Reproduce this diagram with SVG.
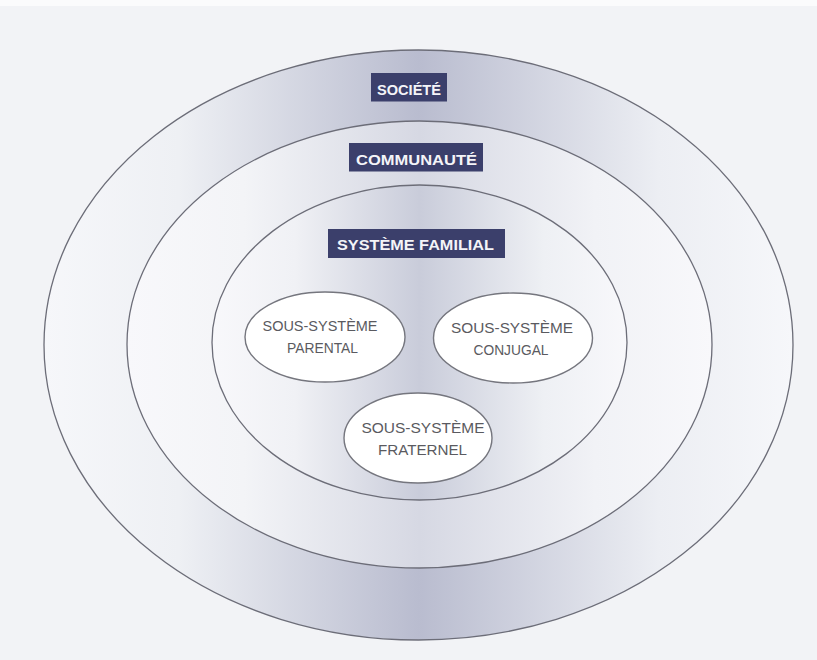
<svg xmlns="http://www.w3.org/2000/svg" width="817" height="660" viewBox="0 0 817 660">
<defs>
<linearGradient id="gOuter" x1="0" y1="0" x2="1" y2="0">
<stop offset="0" stop-color="#f6f7fa"/>
<stop offset="0.18" stop-color="#eef0f4"/>
<stop offset="0.5" stop-color="#b9bccf"/>
<stop offset="0.82" stop-color="#eceef3"/>
<stop offset="1" stop-color="#f6f7fa"/>
</linearGradient>
<linearGradient id="gMiddle" x1="0" y1="0" x2="1" y2="0">
<stop offset="0" stop-color="#f8f8fb"/>
<stop offset="0.2" stop-color="#f3f4f7"/>
<stop offset="0.5" stop-color="#d6d8e3"/>
<stop offset="0.8" stop-color="#f1f2f6"/>
<stop offset="1" stop-color="#f8f8fb"/>
</linearGradient>
<linearGradient id="gInner" x1="0" y1="0" x2="1" y2="0">
<stop offset="0" stop-color="#f8f8fb"/>
<stop offset="0.2" stop-color="#f0f1f5"/>
<stop offset="0.5" stop-color="#c9ccda"/>
<stop offset="0.8" stop-color="#eef0f4"/>
<stop offset="1" stop-color="#f8f8fb"/>
</linearGradient>
</defs>
<style>
.ring{stroke:#6c6d78;stroke-width:1.3}
.lbl{fill:#3b3f6b}
.lt{font-family:"Liberation Sans",Arial,sans-serif;font-size:15px;font-weight:bold;fill:#f4f4f8;text-anchor:middle}
.sub{fill:#ffffff;stroke:#75767e;stroke-width:1.4}
.st{font-family:"Liberation Sans",Arial,sans-serif;font-size:15px;fill:#5a5a60;text-anchor:middle}
</style>
<rect x="0" y="0" width="817" height="660" fill="#f2f3f6"/>
<rect x="0" y="0" width="817" height="6" fill="#fbfbfc"/>
<g id="societe">
<ellipse class="ring" cx="418.5" cy="345" rx="374.5" ry="295" fill="url(#gOuter)"/>
<rect class="lbl" x="371" y="73" width="76" height="28.5"/>
<text class="lt" x="409" y="95" textLength="64" lengthAdjust="spacingAndGlyphs">SOCIÉTÉ</text>
</g>
<g id="communaute">
<ellipse class="ring" cx="419.5" cy="344.5" rx="292.5" ry="223.5" fill="url(#gMiddle)"/>
<rect class="lbl" x="349" y="143" width="134" height="28.5"/>
<text class="lt" x="416.5" y="165" textLength="121" lengthAdjust="spacingAndGlyphs">COMMUNAUTÉ</text>
</g>
<g id="systeme-familial">
<ellipse class="ring" cx="419.5" cy="342.5" rx="207.5" ry="157.5" fill="url(#gInner)"/>
<rect class="lbl" x="328" y="229" width="177" height="29"/>
<text class="lt" x="415.5" y="250" textLength="157" lengthAdjust="spacingAndGlyphs">SYSTÈME FAMILIAL</text>
</g>
<g id="parental">
<ellipse class="sub" cx="325" cy="337" rx="80" ry="45"/>
<text class="st" x="320" y="331" textLength="115" lengthAdjust="spacingAndGlyphs">SOUS-SYSTÈME</text>
<text class="st" x="322.5" y="353" textLength="71" lengthAdjust="spacingAndGlyphs">PARENTAL</text>
</g>
<g id="conjugal">
<ellipse class="sub" cx="513" cy="338" rx="79.5" ry="45"/>
<text class="st" x="512" y="333" textLength="122" lengthAdjust="spacingAndGlyphs">SOUS-SYSTÈME</text>
<text class="st" x="511" y="355" textLength="75" lengthAdjust="spacingAndGlyphs">CONJUGAL</text>
</g>
<g id="fraternel">
<ellipse class="sub" cx="418" cy="438" rx="74" ry="45"/>
<text class="st" x="423" y="433" textLength="123" lengthAdjust="spacingAndGlyphs">SOUS-SYSTÈME</text>
<text class="st" x="422.5" y="455" textLength="89" lengthAdjust="spacingAndGlyphs">FRATERNEL</text>
</g>
<g id="connectors"/>
</svg>
